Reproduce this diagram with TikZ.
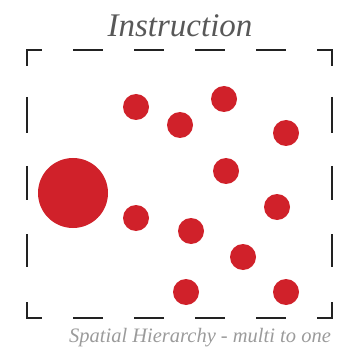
\documentclass[tikz,border=0pt]{standalone}
\usepackage{fontspec}
\setmainfont{Liberation Serif}
\usetikzlibrary{positioning}
\definecolor{dotred}{RGB}{208,33,42}
\definecolor{framegray}{RGB}{34,34,34}
\definecolor{titlegray}{RGB}{88,88,88}
\definecolor{capgray}{RGB}{155,155,155}
\tikzset{
  frame/.style   = {line width=2pt, draw=framegray},
  dot/.style     = {circle, fill=dotred, inner sep=0pt, minimum size=26pt},
  bigdot/.style  = {dot, minimum size=70pt},
  headline/.style = {anchor=base, inner sep=0pt, text=titlegray, font=\fontsize{33}{33}\selectfont\itshape},
  caption/.style = {anchor=base, inner sep=0pt, text=capgray, font=\fontsize{20.5}{20.5}\selectfont\itshape}
}

\begin{document}
\begin{tikzpicture}[x=1pt, y=-1pt]
  \useasboundingbox (0,0) rectangle (346,363);

  % title and caption
  \node[headline] (title) at (180,37) {Instruction};
  \node[caption]  (cap)   at (200,342) {Spatial Hierarchy - multi to one};

  % dashed frame: corners
  \draw[frame] (27,66) -- (27,50) -- (42,50);
  \draw[frame] (317,50) -- (332,50) -- (332,66);
  \draw[frame] (27,302) -- (27,318) -- (42,318);
  \draw[frame] (317,318) -- (332,318) -- (332,302);
  % dashed frame: dashes
  \foreach \x in {73,134,195,256} {
    \draw[frame] (\x,50) -- +(30,0);
    \draw[frame] (\x,318) -- +(30,0);
  }
  \foreach \y/\l in {97/36,166/34,234/33} {
    \draw[frame] (27,\y) -- +(0,\l);
    \draw[frame] (332,\y) -- +(0,\l);
  }

  % the many
  \node[dot] (d1)  at (136,107) {};
  \node[dot] (d2)  at (180,125) {};
  \node[dot] (d3)  at (224,99)  {};
  \node[dot] (d4)  at (286,133) {};
  \node[dot] (d5)  at (226,171) {};
  \node[dot] (d6)  at (277,207) {};
  \node[dot] (d7)  at (136,218) {};
  \node[dot] (d8)  at (191,231) {};
  \node[dot] (d9)  at (243,257) {};
  \node[dot] (d10) at (186,292) {};
  \node[dot] (d11) at (286,292) {};
  % the one
  \node[bigdot] (big) at (73,193) {};
\end{tikzpicture}
\end{document}
